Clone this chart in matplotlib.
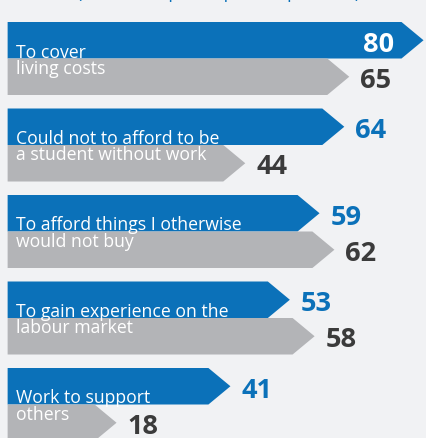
import matplotlib.pyplot as plt
from matplotlib.patches import Polygon

labels_top = ["To cover", "Could not to afford to be", "To afford things I otherwise",
              "To gain experience on the", "Work to support"]
labels_bottom = ["living costs", "a student without work", "would not buy",
                 "labour market", "others"]
blue_vals = [80, 64, 59, 53, 41]
gray_vals = [65, 44, 62, 58, 18]

BLUE = '#0b71b9'
GRAY = '#b3b4b7'
BG = '#f1f2f4'
DARK = '#3b3b3b'

plt.rcParams['font.family'] = ['Open Sans', 'DejaVu Sans']

fig = plt.figure(figsize=(4.26, 4.39), dpi=100)
fig.patch.set_facecolor(BG)
ax = fig.add_axes([0, 0, 1, 1])
ax.set_facecolor(BG)
# x in value units (about 4.95 px per point), y in pixels from the top
ax.set_xlim(-5.54, 80.5)
ax.set_ylim(439, 0)
ax.axis('off')

px = 1 / 4.95
x_left = -4.0
tip = 22 * px
bar_h = 36.5
first_top = 23
step = 86.5


def arrow(v, top, color):
    pts = [(x_left, top), (v - tip, top), (v, top + bar_h / 2),
           (v - tip, top + bar_h), (x_left, top + bar_h)]
    ax.add_patch(Polygon(pts, closed=True, facecolor=color, edgecolor='none'))


def value_label(v, yc, color):
    if v > 75:
        ax.text(v - 29 * px, yc, str(v), ha='right', va='center_baseline',
                fontsize=19.5, fontweight='bold', color='white')
    else:
        ax.text(v + 11 * px, yc, str(v), ha='left', va='center_baseline',
                fontsize=19.5, fontweight='bold', color=color)


for i in range(len(blue_vals)):
    top = first_top + i * step
    arrow(blue_vals[i], top, BLUE)
    arrow(gray_vals[i], top + bar_h, GRAY)
    value_label(blue_vals[i], top + bar_h / 2 + 0.5, BLUE)
    value_label(gray_vals[i], top + bar_h * 1.5, DARK)
    ax.text(x_left + 8 * px, top + bar_h - 2, labels_top[i], ha='left',
            va='baseline', fontsize=12.7, color='white')
    ax.text(x_left + 8 * px, top + bar_h + 14.5, labels_bottom[i], ha='left',
            va='baseline', fontsize=12.7, color='white')

# subtitle cut off at the top edge
ax.text(x_left + 69 * px, -1.5, "(in %, multiple responses possible)", ha='left',
        va='baseline', fontsize=12.7, color=BLUE, clip_on=False)

fig.savefig('out.png', dpi=100, facecolor=BG)
